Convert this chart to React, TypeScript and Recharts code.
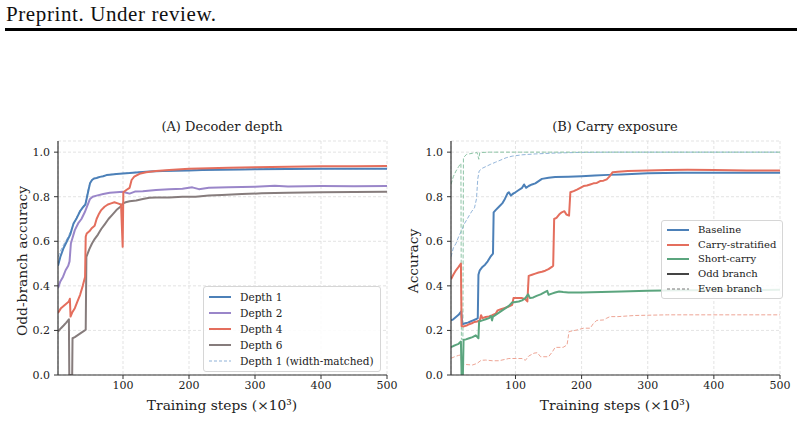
import React from 'react';
import { LineChart, Line, XAxis, YAxis, CartesianGrid } from 'recharts';

// [step (×10³), accuracy] pairs for each run
type P = [number, number];

// ---- Panel A: decoder depth (odd-branch accuracy) ----
const depth1: P[] = [
  [1.5, 0.49], [5, 0.53], [10, 0.57], [15, 0.6], [20, 0.63], [25, 0.68], [30, 0.705], [35, 0.735],
  [40, 0.755], [43, 0.765], [47, 0.82], [50, 0.86], [53, 0.875], [56, 0.882], [60, 0.884], [65, 0.889],
  [70, 0.892], [75, 0.897], [80, 0.899], [90, 0.902], [100, 0.904], [110, 0.906], [120, 0.909],
  [130, 0.911], [140, 0.913], [160, 0.915], [180, 0.917], [200, 0.918], [220, 0.92], [250, 0.921],
  [280, 0.922], [300, 0.923], [350, 0.924], [400, 0.925], [450, 0.925], [500, 0.925],
];
const depth1Wide: P[] = [
  [1.5, 0.53], [5, 0.555], [10, 0.585], [15, 0.61], [20, 0.64], [25, 0.675], [30, 0.71], [35, 0.74],
  [40, 0.76], [43, 0.772], [47, 0.83], [50, 0.862], [55, 0.878], [60, 0.886], [70, 0.893], [80, 0.9],
  [100, 0.905], [120, 0.91], [150, 0.915], [200, 0.919], [250, 0.922], [300, 0.924], [400, 0.926],
  [500, 0.926],
];
const depth2: P[] = [
  [1.5, 0.39], [5, 0.42], [9, 0.44], [13, 0.47], [17, 0.49], [19, 0.51], [21, 0.59], [23, 0.61],
  [27, 0.65], [32, 0.68], [37, 0.7], [42, 0.73], [46, 0.76], [50, 0.79], [54, 0.8], [60, 0.805],
  [70, 0.812], [80, 0.818], [90, 0.82], [100, 0.822], [105, 0.818], [110, 0.814], [118, 0.823],
  [130, 0.825], [150, 0.83], [170, 0.833], [190, 0.836], [205, 0.842], [215, 0.834], [230, 0.84],
  [260, 0.842], [300, 0.845], [330, 0.849], [350, 0.846], [400, 0.848], [450, 0.847], [500, 0.848],
];
const depth4: P[] = [
  [1.5, 0.278], [6, 0.3], [10, 0.31], [14, 0.32], [18, 0.33], [19.5, 0.342], [20.5, 0.262],
  [23, 0.28], [27, 0.3], [31, 0.33], [35, 0.36], [39, 0.4], [42.5, 0.44], [43.5, 0.62], [45, 0.635],
  [49, 0.645], [53, 0.66], [57, 0.67], [60, 0.7], [63, 0.72], [67, 0.74], [72, 0.755], [77, 0.765],
  [82, 0.77], [87, 0.775], [92, 0.77], [97, 0.765], [99.5, 0.575], [100.5, 0.82], [105, 0.83],
  [110, 0.84], [113, 0.875], [117, 0.89], [125, 0.903], [135, 0.91], [150, 0.915], [170, 0.92],
  [200, 0.925], [230, 0.928], [260, 0.93], [300, 0.932], [350, 0.935], [400, 0.937], [450, 0.937],
  [500, 0.938],
];
const depth6: P[] = [
  [1.5, 0.195], [6, 0.21], [10, 0.222], [14, 0.235], [18, 0.25], [18.6, 0.0], [23, 0.0],
  [23.5, 0.165], [27, 0.17], [32, 0.18], [37, 0.19], [41, 0.198], [43.5, 0.203], [44.5, 0.53],
  [49, 0.565], [53, 0.59], [57, 0.61], [62, 0.63], [67, 0.655], [72, 0.675], [78, 0.7], [84, 0.72],
  [90, 0.74], [96, 0.755], [100, 0.77], [104, 0.775], [110, 0.78], [120, 0.783], [130, 0.79],
  [140, 0.795], [150, 0.797], [170, 0.797], [190, 0.8], [210, 0.8], [230, 0.805], [250, 0.808],
  [280, 0.812], [310, 0.815], [350, 0.818], [400, 0.82], [450, 0.821], [500, 0.822],
];

// ---- Panel B: carry exposure (odd = solid, even = dashed) ----
const baselineOdd: P[] = [
  [2.5, 0.245], [6, 0.25], [10, 0.26], [14, 0.27], [18, 0.285], [19.5, 0.228], [24, 0.232],
  [28, 0.235], [32, 0.24], [36, 0.245], [40, 0.25], [43, 0.255], [44, 0.45], [46, 0.47],
  [50, 0.485], [54, 0.495], [58, 0.51], [62, 0.53], [66, 0.545], [67, 0.73], [70, 0.74], [75, 0.755],
  [80, 0.77], [84, 0.79], [88, 0.815], [90, 0.82], [93, 0.805], [97, 0.815], [100, 0.82],
  [105, 0.83], [110, 0.84], [113, 0.855], [116, 0.84], [120, 0.848], [125, 0.855], [130, 0.86],
  [135, 0.87], [140, 0.88], [150, 0.885], [160, 0.888], [180, 0.89], [200, 0.892], [220, 0.895],
  [240, 0.898], [260, 0.9], [300, 0.905], [350, 0.907], [400, 0.908], [450, 0.908], [500, 0.908],
];
const carryOdd: P[] = [
  [2.5, 0.43], [6, 0.45], [10, 0.47], [14, 0.485], [17.5, 0.5], [18.5, 0.22], [22, 0.218],
  [26, 0.222], [30, 0.228], [34, 0.232], [38, 0.238], [42, 0.24], [46, 0.245], [48, 0.268],
  [50, 0.255], [55, 0.26], [60, 0.263], [65, 0.268], [70, 0.275], [73, 0.29], [78, 0.295], [83, 0.3],
  [88, 0.305], [92, 0.31], [95, 0.315], [97, 0.345], [103, 0.346], [110, 0.345], [115, 0.34],
  [118, 0.33], [120, 0.445], [125, 0.45], [130, 0.455], [135, 0.46], [140, 0.463], [145, 0.468],
  [150, 0.475], [155, 0.485], [157, 0.49], [158.5, 0.7], [162, 0.705], [166, 0.72], [170, 0.73],
  [174, 0.735], [177, 0.72], [181, 0.715], [183, 0.82], [188, 0.825], [193, 0.832], [198, 0.84],
  [203, 0.848], [208, 0.85], [213, 0.855], [218, 0.86], [223, 0.862], [228, 0.87], [233, 0.872],
  [238, 0.878], [242, 0.89], [247, 0.91], [255, 0.912], [270, 0.915], [300, 0.918], [330, 0.92],
  [360, 0.921], [400, 0.92], [450, 0.918], [500, 0.918],
];
const shortOdd: P[] = [
  [2.5, 0.125], [6, 0.13], [10, 0.135], [14, 0.14], [17.5, 0.15], [18.5, 0.0], [20.5, 0.0],
  [21.5, 0.157], [25, 0.16], [30, 0.165], [35, 0.17], [40, 0.178], [44, 0.165], [45, 0.24],
  [50, 0.245], [55, 0.25], [60, 0.255], [63, 0.265], [64.5, 0.245], [66, 0.262], [70, 0.27],
  [75, 0.28], [80, 0.29], [85, 0.3], [90, 0.31], [95, 0.325], [100, 0.328], [105, 0.33],
  [110, 0.335], [115, 0.345], [119, 0.362], [122, 0.345], [127, 0.348], [132, 0.355], [138, 0.362],
  [143, 0.37], [148, 0.378], [150, 0.36], [155, 0.365], [160, 0.37], [166, 0.375], [172, 0.372],
  [180, 0.37], [200, 0.37], [230, 0.372], [260, 0.375], [300, 0.378], [350, 0.38], [400, 0.38],
  [450, 0.381], [500, 0.382],
];
const baselineEven: P[] = [
  [2.5, 0.53], [6, 0.57], [10, 0.59], [14, 0.62], [18, 0.645], [22, 0.675], [26, 0.695], [30, 0.715],
  [34, 0.735], [38, 0.75], [41, 0.79], [43, 0.88], [45, 0.915], [50, 0.928], [55, 0.935], [62, 0.945],
  [70, 0.955], [78, 0.965], [86, 0.975], [95, 0.982], [110, 0.988], [130, 0.992], [160, 0.996],
  [200, 0.999], [250, 1.0], [500, 1.0],
];
const carryEven: P[] = [
  [2.5, 0.075], [8, 0.082], [14, 0.088], [17.5, 0.09], [18.5, 0.05], [25, 0.047], [35, 0.045],
  [42, 0.052], [48, 0.066], [55, 0.067], [65, 0.064], [75, 0.064], [90, 0.074], [110, 0.074],
  [115, 0.066], [120, 0.085], [128, 0.098], [133, 0.1], [138, 0.082], [150, 0.082], [156, 0.105],
  [160, 0.124], [172, 0.124], [178, 0.135], [181, 0.195], [193, 0.202], [203, 0.21], [213, 0.21],
  [218, 0.232], [223, 0.245], [233, 0.247], [238, 0.255], [243, 0.262], [255, 0.262], [280, 0.267],
  [330, 0.27], [400, 0.27], [500, 0.27],
];
const shortEven: P[] = [
  [2.5, 0.855], [6, 0.89], [10, 0.915], [14, 0.935], [17.5, 0.95], [18.2, 0.16], [20.5, 0.16],
  [21.3, 0.975], [26, 0.99], [35, 0.995], [42, 0.998], [44.5, 0.968], [46, 0.998], [60, 1.0],
  [100, 1.0], [500, 1.0],
];

const xTicks = [100, 200, 300, 400, 500];
const yTicks = [0, 0.2, 0.4, 0.6, 0.8, 1.0];

const BLUE = '#4c80b8';
const PURPLE = '#9a86c9';
const RED = '#e46e5d';
const GRAY = '#867c7c';
const GREEN = '#5ba57e';

const rows = (pts: P[]) => pts.map(([x, y]) => ({ x, y }));

const SERIF = '"DejaVu Serif", serif';

type Entry = { label: string; color: string; dashed?: boolean };

const legendA: Entry[] = [
  { label: 'Depth 1', color: BLUE },
  { label: 'Depth 2', color: PURPLE },
  { label: 'Depth 4', color: RED },
  { label: 'Depth 6', color: GRAY },
  { label: 'Depth 1 (width-matched)', color: '#8fb2d8', dashed: true },
];
const legendB: Entry[] = [
  { label: 'Baseline', color: BLUE },
  { label: 'Carry-stratified', color: RED },
  { label: 'Short-carry', color: GREEN },
  { label: 'Odd branch', color: '#444444' },
  { label: 'Even branch', color: '#777777', dashed: true },
];

function LegendBox({
  entries,
  rowH,
  fontSize,
  left,
  top,
}: {
  entries: Entry[];
  rowH: number;
  fontSize: number;
  left: number;
  top: number;
}) {
  return (
    <div
      style={{
        position: 'absolute',
        left,
        top,
        background: 'rgba(255,255,255,0.85)',
        border: '1px solid #d6d6d6',
        borderRadius: 3,
        padding: '2px 6px 2px 4px',
        fontFamily: SERIF,
        fontSize,
        lineHeight: 1,
        color: '#222',
      }}
    >
      {entries.map((e) => (
        <div key={e.label} style={{ display: 'flex', alignItems: 'center', height: rowH }}>
          <svg width={24} height={6} style={{ marginRight: 8, flex: 'none' }}>
            <line
              x1={1}
              x2={23}
              y1={3}
              y2={3}
              stroke={e.color}
              strokeWidth={e.dashed ? 1 : 2}
              strokeDasharray={e.dashed ? '3 2' : undefined}
            />
          </svg>
          <span style={{ whiteSpace: 'nowrap' }}>{e.label}</span>
        </div>
      ))}
    </div>
  );
}

const tickStyle = { fontFamily: SERIF, fontSize: 11, fill: '#222' };
const axisLine = { stroke: '#333', strokeWidth: 1.2 };
const labelStyle = { fontFamily: SERIF, fontSize: 13.8, fill: '#222' };

function Panel({
  title,
  yLabel,
  yLabelX,
  xMin,
  children,
}: {
  title: string;
  yLabel: string;
  yLabelX: number;
  xMin: number;
  children: React.ReactNode;
}) {
  return (
    <LineChart width={400} height={320} margin={{ top: 31, right: 13, bottom: 25, left: 13 }}>
      <text x={222} y={21} textAnchor="middle" style={{ fontFamily: SERIF, fontSize: 13, fill: '#222' }}>
        {title}
      </text>
      <text x={222} y={300} textAnchor="middle" style={labelStyle}>
        Training steps (×10³)
      </text>
      <text
        transform={`translate(${yLabelX}, 151) rotate(-90)`}
        textAnchor="middle"
        dominantBaseline="central"
        style={labelStyle}
      >
        {yLabel}
      </text>
      <CartesianGrid stroke="#dcdcdc" strokeDasharray="3 2" strokeWidth={0.8} />
      <XAxis
        dataKey="x"
        type="number"
        domain={[xMin, 500]}
        allowDataOverflow
        ticks={xTicks}
        tick={tickStyle}
        tickSize={4}
        tickMargin={2}
        axisLine={axisLine}
        tickLine={{ stroke: '#333' }}
        height={30}
      />
      <YAxis
        type="number"
        domain={[0, 1.05]}
        allowDataOverflow
        ticks={yTicks}
        tickFormatter={(v: number) => v.toFixed(1)}
        tick={tickStyle}
        tickSize={4}
        tickMargin={4}
        axisLine={axisLine}
        tickLine={{ stroke: '#333' }}
        width={45}
      />
      {children}
    </LineChart>
  );
}

const solid = (data: P[], color: string, name: string) => (
  <Line
    key={name}
    name={name}
    data={rows(data)}
    dataKey="y"
    type="linear"
    stroke={color}
    strokeWidth={2}
    dot={false}
    activeDot={false}
    isAnimationActive={false}
    strokeLinejoin="round"
  />
);
const dashed = (data: P[], color: string, name: string) => (
  <Line
    key={name}
    name={name}
    data={rows(data)}
    dataKey="y"
    type="linear"
    stroke={color}
    strokeWidth={1}
    strokeDasharray="4 2"
    dot={false}
    activeDot={false}
    isAnimationActive={false}
  />
);

export default function App() {
  return (
    <div style={{ position: 'absolute', left: 0, top: 0, width: 804, height: 430, background: '#fff', overflow: 'hidden' }}>
      <div
        style={{
          position: 'absolute',
          left: 6,
          top: 2,
          fontFamily: '"Liberation Serif", serif',
          fontSize: 21,
          letterSpacing: 0.6,
          color: '#111',
          whiteSpace: 'nowrap',
        }}
      >
        Preprint. Under review.
      </div>
      <div style={{ position: 'absolute', left: 5, top: 28, width: 792, height: 3, background: '#000' }} />

      <div style={{ position: 'absolute', left: 0, top: 110 }}>
        <Panel title="(A) Decoder depth" yLabel="Odd-branch accuracy" yLabelX={22} xMin={1.5}>
          {dashed(depth1Wide, '#8fb2d8', 'Depth 1 (width-matched)')}
          {solid(depth6, GRAY, 'Depth 6')}
          {solid(depth2, PURPLE, 'Depth 2')}
          {solid(depth1, BLUE, 'Depth 1')}
          {solid(depth4, RED, 'Depth 4')}
        </Panel>
      </div>

      <div style={{ position: 'absolute', left: 393, top: 110 }}>
        <Panel title="(B) Carry exposure" yLabel="Accuracy" yLabelX={20} xMin={2.5}>
          {dashed(carryEven, '#eea595', 'Carry-stratified (even)')}
          {dashed(baselineEven, '#93b5da', 'Baseline (even)')}
          {dashed(shortEven, '#8dc4a6', 'Short-carry (even)')}
          {solid(baselineOdd, BLUE, 'Baseline')}
          {solid(carryOdd, RED, 'Carry-stratified')}
          {solid(shortOdd, GREEN, 'Short-carry')}
        </Panel>
      </div>

      <LegendBox entries={legendA} rowH={16} fontSize={10.5} left={203} top={286} />
      <LegendBox entries={legendB} rowH={14.6} fontSize={10} left={661} top={220} />
    </div>
  );
}
